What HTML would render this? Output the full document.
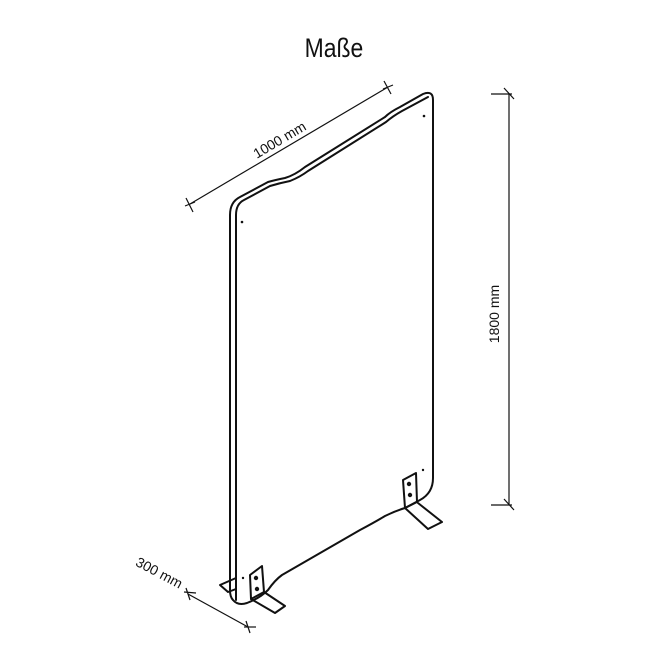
<!DOCTYPE html>
<html><head><meta charset="utf-8"><style>
html,body{margin:0;padding:0;background:#fff;width:668px;height:668px;overflow:hidden}
svg{display:block}
text{font-family:"Liberation Sans",sans-serif;fill:#111}
</style></head><body>
<svg width="668" height="668" viewBox="0 0 668 668" xmlns="http://www.w3.org/2000/svg">
<text x="334" y="57" font-size="27" text-anchor="middle" transform="translate(334 0) scale(0.85 1) translate(-334 0)">Maße</text>
<g fill="none" stroke="#111" stroke-width="2" stroke-linejoin="round" stroke-linecap="round">
<path d="M236 578 L220 585 L228 592 L236 589"/>
<path d="M230 215 Q230 202 240 197 L268 182 Q275 180 285 178 Q295 175 305 167 L385 117 Q390 112 400 107 L423 94 Q433 90 433 100 L433 478 Q433 493 420 500 L405 508 Q395 511 385 516 Q375 522 360 530 L282 575 Q275 580 268 590 Q260 598 247 603 Q238 606 233 600 Q230 597 230 590 Z"/>
<path d="M236 600 L236 215 Q236 204 244 200 L270 186 Q280 183 290 181 Q300 177 308 171 L386 122 Q393 116 402 111 L428 97"/>
<path d="M250 575 L262 566 L264 592 L251 599 Z"/>
<path d="M251 599 L275 613 L285 606 L264 592"/>
<path d="M403 480 L416 473 L417 502 L405 508 Z"/>
<path d="M405 508 L428 529 L442 522 L418 503"/>
</g>
<g fill="#111">
<circle cx="256" cy="578" r="2.2"/><circle cx="257" cy="589" r="2.2"/>
<circle cx="409" cy="484" r="2.2"/><circle cx="410" cy="495" r="2.2"/>
<circle cx="242" cy="222" r="1.3"/><circle cx="424" cy="116" r="1.3"/>
<circle cx="243" cy="578" r="1.2"/><circle cx="423" cy="470" r="1.2"/>
</g>
<g fill="none" stroke="#111" stroke-width="1.2">
<line x1="190" y1="204" x2="388" y2="87"/>
<line x1="186" y1="198" x2="193" y2="212"/><line x1="185" y1="206" x2="195" y2="202"/>
<line x1="384" y1="81" x2="391" y2="94"/><line x1="383" y1="89" x2="393" y2="85"/>
<line x1="509" y1="94" x2="509" y2="505"/>
<line x1="491" y1="94" x2="512" y2="94"/><line x1="504" y1="88" x2="514" y2="99"/>
<line x1="491" y1="505" x2="512" y2="505"/><line x1="504" y1="499" x2="514" y2="510"/>
<line x1="188" y1="594" x2="248" y2="627"/>
<line x1="184" y1="592" x2="196" y2="593"/><line x1="186" y1="588" x2="190" y2="600"/>
<line x1="244" y1="627" x2="256" y2="627"/><line x1="246" y1="621" x2="250" y2="633"/>
</g>
<text x="282" y="144" font-size="14" text-anchor="middle" transform="rotate(-30.6 282 144)">1000 mm</text>
<text x="499" y="314" font-size="14" text-anchor="middle" transform="rotate(-90 499 314)">1800 mm</text>
<text x="157" y="577" font-size="14" text-anchor="middle" transform="rotate(28 157 577)">300 mm</text>
</svg>
</body></html>
